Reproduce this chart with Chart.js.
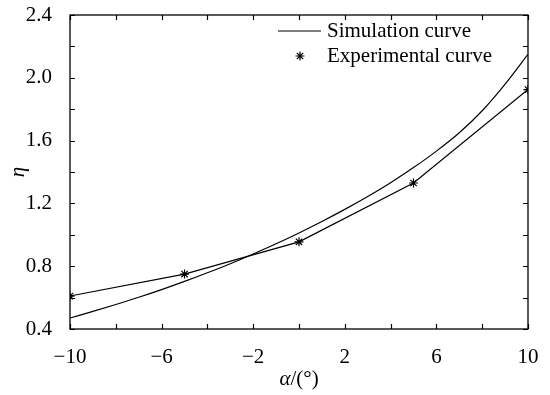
<!DOCTYPE html>
<html>
<head>
<meta charset="utf-8">
<script src="https://cdn.jsdelivr.net/npm/chart.js@4.4.1/dist/chart.umd.min.js"></script>
<style>
  html, body { margin: 0; padding: 0; background: #fff; }
  #wrap { width: 550px; height: 395px; }
</style>
</head>
<body>
<div id="wrap"><canvas id="chart" width="550" height="395"></canvas></div>
<script>
const simAlpha = [-10, -9, -8, -7, -6, -5, -4, -3, -2, -1, 0, 1, 2, 3, 4, 5, 6, 7, 8, 9, 10];
const simEta = [0.47, 0.512, 0.556, 0.602, 0.651, 0.703, 0.758, 0.816, 0.878, 0.943, 1.012,
  1.085, 1.162, 1.244, 1.332, 1.428, 1.533, 1.65, 1.79, 1.96, 2.15];
const expAlpha = [-10, -5, 0, 5, 10];
const expEta = [0.61, 0.75, 0.955, 1.33, 1.925];
const xLabels = [-10, -6, -2, 2, 6, 10];
const yLabels = [0.4, 0.8, 1.2, 1.6, 2.0, 2.4];

const serif = '"Liberation Serif", "Times New Roman", serif';
const fs = 21;

// box frame with inward ticks on all four sides, x title and legend
const frame = {
  id: 'frame',
  afterDraw(chart) {
    const {ctx, chartArea: a, scales: {x, y}} = chart;
    const len = 5;
    ctx.save();
    ctx.strokeStyle = '#000';
    ctx.lineWidth = 1.3;
    ctx.strokeRect(a.left, a.top, a.right - a.left, a.bottom - a.top);
    ctx.lineWidth = 1.2;
    ctx.beginPath();
    x.ticks.forEach(t => {
      const px = Math.round(x.getPixelForValue(t.value)) + 0.5;
      ctx.moveTo(px, a.bottom); ctx.lineTo(px, a.bottom - len);
      ctx.moveTo(px, a.top); ctx.lineTo(px, a.top + len);
    });
    y.ticks.forEach(t => {
      const py = Math.round(y.getPixelForValue(t.value)) + 0.5;
      ctx.moveTo(a.left, py); ctx.lineTo(a.left + len, py);
      ctx.moveTo(a.right, py); ctx.lineTo(a.right - len, py);
    });
    ctx.stroke();

    // x title, alpha in italics
    const cx = (a.left + a.right) / 2;
    const ty = 379;
    ctx.fillStyle = '#000';
    ctx.textBaseline = 'middle';
    ctx.textAlign = 'left';
    ctx.font = 'italic ' + fs + 'px ' + serif;
    const w1 = ctx.measureText('α').width;
    ctx.font = fs + 'px ' + serif;
    const w2 = ctx.measureText('/(°)').width;
    const sx = cx - (w1 + w2) / 2;
    ctx.font = 'italic ' + fs + 'px ' + serif;
    ctx.fillText('α', sx, ty);
    ctx.font = fs + 'px ' + serif;
    ctx.fillText('/(°)', sx + w1, ty);

    // legend
    const ds = chart.data.datasets;
    ctx.lineWidth = 1.2;
    ctx.beginPath();
    ctx.moveTo(278, 31); ctx.lineTo(321, 31);
    ctx.stroke();
    ctx.fillText(ds[0].label, 327, 31);
    Chart.helpers.drawPoint(ctx, {pointStyle: 'star', radius: 4.5, borderWidth: 1.2}, 300, 56);
    ctx.fillText(ds[1].label, 327, 56);
    ctx.restore();
  }
};

new Chart(document.getElementById('chart'), {
  type: 'line',
  data: {
    datasets: [
      {
        label: 'Simulation curve',
        data: simAlpha.map((a, i) => ({x: a, y: simEta[i]})),
        borderColor: '#000',
        borderWidth: 1.2,
        pointRadius: 0,
        cubicInterpolationMode: 'monotone',
        fill: false
      },
      {
        label: 'Experimental curve',
        data: expAlpha.map((a, i) => ({x: a, y: expEta[i]})),
        borderColor: '#000',
        backgroundColor: '#000',
        borderWidth: 1.2,
        pointStyle: 'star',
        pointRadius: 4.5,
        pointBorderWidth: 1.2,
        tension: 0,
        fill: false
      }
    ]
  },
  options: {
    responsive: false,
    animation: false,
    layout: {padding: {top: 15, right: 22, left: 0, bottom: 0}},
    plugins: {
      legend: {display: false},
      tooltip: {enabled: false}
    },
    scales: {
      x: {
        type: 'linear',
        min: -10,
        max: 10,
        grid: {display: false},
        border: {display: false},
        ticks: {
          stepSize: 2,
          autoSkip: false,
          maxRotation: 0,
          padding: 8,
          color: '#000',
          font: {family: serif, size: fs},
          callback: v => xLabels.includes(v) ? String(v).replace('-', '\u2212') : ''
        },
        afterFit: s => { s.height = 66; s.paddingLeft = 0; s.paddingRight = 0; }
      },
      y: {
        min: 0.4,
        max: 2.4,
        grid: {display: false},
        border: {display: false},
        ticks: {
          stepSize: 0.2,
          autoSkip: false,
          padding: 10,
          color: '#000',
          font: {family: serif, size: fs},
          callback: v => yLabels.some(l => Math.abs(l - v) < 1e-6) ? v.toFixed(1) : ''
        },
        title: {
          display: true,
          text: 'η',
          color: '#000',
          padding: {top: 6, bottom: 0},
          font: {family: serif, size: fs, style: 'italic'}
        },
        afterFit: s => { s.width = 70; s.paddingTop = 0; s.paddingBottom = 0; }
      }
    }
  },
  plugins: [frame]
});
</script>
</body>
</html>
